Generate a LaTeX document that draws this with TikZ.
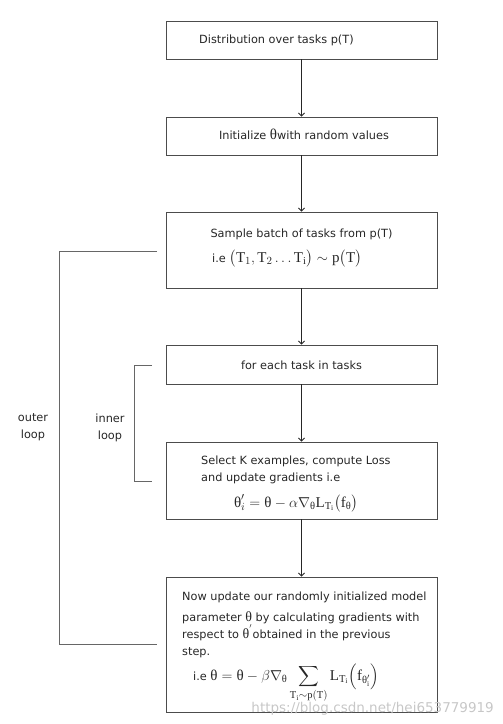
\documentclass[tikz,border=0pt]{standalone}
\usepackage{amsmath}
\usepackage{fontspec}
\setsansfont{DejaVu Sans}
\setmathrm{Liberation Serif}
\newfontfamily\lserif{Liberation Serif}
\usetikzlibrary{arrows.meta}
\newcommand\thu{\text{\lserif θ}}
\tikzset{
  box/.style={draw=black!70, line width=0.9bp, minimum width=271bp, inner sep=0pt},
  arr/.style={-{Straight Barb[length=3bp,width=6bp]}, draw=black!85, line width=0.8bp},
  brk/.style={draw=black!60, line width=0.9bp},
  txt/.style={inner sep=0pt, text=black!85, font=\sffamily\fontsize{11.3bp}{17bp}\selectfont},
  mth/.style={inner sep=0pt, text=black!85, font=\sffamily\fontsize{15bp}{17bp}\selectfont},
}
\begin{document}
\begin{tikzpicture}[x=1bp,y=-1bp]
\useasboundingbox (0,0) rectangle (503,724);
% boxes
\node[box, minimum height=38bp] (b1) at (301.5,40) {};
\node[box, minimum height=38bp] (b2) at (301.5,136) {};
\node[box, minimum height=76bp] (b3) at (301.5,250) {};
\node[box, minimum height=39bp] (b4) at (301.5,364.5) {};
\node[box, minimum height=77bp] (b5) at (301.5,480.5) {};
\node[box, minimum height=135bp] (b6) at (301.5,644.5) {};
% arrows
\draw[arr] (b1.south) -- (b2.north);
\draw[arr] (b2.south) -- (b3.north);
\draw[arr] (b3.south) -- (b4.north);
\draw[arr] (b4.south) -- (b5.north);
\draw[arr] (b5.south) -- (b6.north);
% texts
\node[txt, anchor=base west] (t1) at (199,44) {Distribution over tasks p(T)};
\node[txt, anchor=base] (t2) at (304,140) {Initialize {\fontsize{15bp}{17bp}\selectfont$\thu$}with random values};
\node[txt, anchor=base] (t3a) at (301.5,237) {Sample batch of tasks from p(T)};
\node[txt, anchor=base west] (t3b) at (212,262) {i.e {\fontsize{15bp}{17bp}\selectfont$\bigl(\mathrm{T}_1,\mathrm{T}_2\ldots\mathrm{T}_{\mathrm{i}}\bigr)\sim\mathrm{p}\bigl(\mathrm{T}\bigr)$}};
\node[txt, anchor=base] (t4) at (301.5,369) {for each task in tasks};
\node[txt, anchor=base west] (t5a) at (201,464) {Select K examples, compute Loss};
\node[txt, anchor=base west] (t5b) at (201,481) {and update gradients i.e};
\node[mth, anchor=base] (t5c) at (296,507) {$\thu'_i=\thu-\alpha\nabla_{\thu}\mathrm{L}_{\mathrm{T_i}}\bigl(\mathrm{f}_{\thu}\bigr)$};
\node[txt, anchor=base west] (t6a) at (182,600) {Now update our randomly initialized model};
\node[txt, anchor=base west] (t6b) at (182,621) {parameter {\fontsize{14bp}{15bp}\selectfont$\thu$}\ by calculating gradients with};
\node[txt, anchor=base west] (t6c) at (182,638) {respect to {\fontsize{14bp}{15bp}\selectfont$\thu^{'}$}obtained in the previous};
\node[txt, anchor=base west] (t6d) at (182,655) {step.};
\node[txt, anchor=base west] (t6e) at (193,680) {i.e {\fontsize{15bp}{17bp}\selectfont$\displaystyle\thu=\thu-\beta\nabla_{\thu}\sum_{\mathrm{T_i}\sim\mathrm{p}\left(\mathrm{T}\right)}\mathrm{L}_{\mathrm{T_i}}\Bigl(\mathrm{f}_{\thu'_{\mathrm{i}}}\Bigr)$}};
% loops
\coordinate (ot) at (157,251);
\coordinate (ob) at (157,644);
\draw[brk] (ot) -- (59,251) -- (59,644) -- (ob);
\coordinate (it) at (152,365);
\coordinate (ib) at (152,481);
\draw[brk] (it) -- (134,365) -- (134,481) -- (ib);
\node[txt, align=center] (lo) at (33,427.5) {outer\\loop};
\node[txt, align=center] (li) at (110,427.5) {inner\\loop};
% watermark
\node[inner sep=0pt, anchor=east, text=black!22, font=\sffamily\fontsize{13.5bp}{15bp}\selectfont] (wm) at (494,709) {https://blog.csdn.net/hei653779919};
\end{tikzpicture}
\end{document}
